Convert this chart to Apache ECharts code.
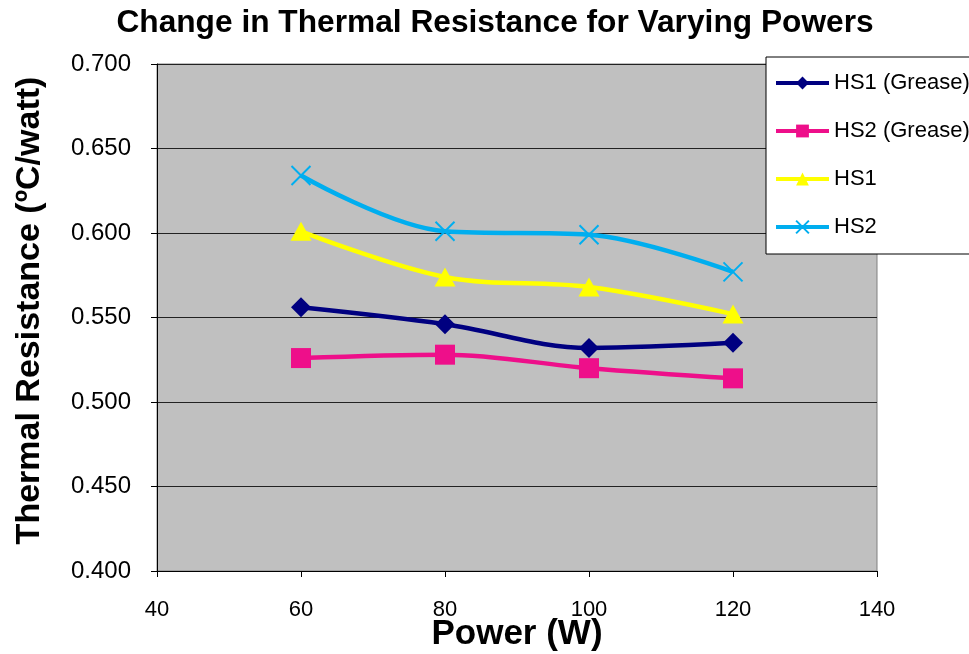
<!DOCTYPE html>
<html>
<head>
<meta charset="utf-8">
<script src="https://cdn.jsdelivr.net/npm/echarts@6/dist/echarts.min.js"></script>
<style>
  html, body { margin: 0; padding: 0; background: #fff; }
  #chart { width: 969px; height: 654px; }
</style>
</head>
<body>
<div id="chart"></div>
<script>
// Power levels (W) and measured thermal resistance (ºC/watt) per heat sink
const powers = [60, 80, 100, 120];
const hs1Grease = [0.556, 0.546, 0.532, 0.535];
const hs2Grease = [0.526, 0.528, 0.520, 0.514];
const hs1 = [0.601, 0.574, 0.568, 0.552];
const hs2 = [0.634, 0.601, 0.599, 0.577];

const seriesNames = ['HS1 (Grease)', 'HS2 (Grease)', 'HS1', 'HS2'];
const seriesColors = ['#000080', '#EE0F8A', '#FFFF00', '#00AEEF'];

const FONT = 'Arial, "Liberation Sans", Helvetica, sans-serif';
const CROSS = 'path://M0,0L10,10M10,0L0,10';

function pairs(vals) {
  return powers.map((p, i) => [p, vals[i]]);
}

function lineSeries(name, vals, color, symbol, size, extra) {
  return Object.assign({
    name: name,
    type: 'line',
    data: pairs(vals),
    smooth: 0.35,
    symbol: symbol,
    symbolSize: size,
    showAllSymbol: true,
    lineStyle: { color: color, width: 4.5 },
    itemStyle: { color: color },
    z: 3
  }, extra || {});
}

const chart = echarts.init(document.getElementById('chart'), null, { renderer: 'canvas' });

chart.setOption({
  animation: false,
  backgroundColor: '#ffffff',
  title: {
    text: 'Change in Thermal Resistance for Varying Powers',
    left: 490,
    textAlign: 'center',
    top: 2,
    textStyle: { fontFamily: FONT, fontWeight: 'bold', fontSize: 31.7, color: '#000' }
  },
  legend: {
    orient: 'vertical',
    left: 766,
    top: 57,
    width: 230,
    padding: [15, 40, 16, 8],
    itemGap: 26,
    itemWidth: 53,
    itemHeight: 16,
    backgroundColor: '#ffffff',
    borderColor: '#000000',
    borderWidth: 1,
    borderRadius: 0,
    data: seriesNames,
    lineStyle: { width: 4 },
    textStyle: { fontFamily: FONT, fontSize: 22, color: '#000', padding: [0, 0, 0, 0] }
  },
  grid: {
    left: 157,
    right: 92,
    top: 64,
    bottom: 83,
    outerBoundsMode: 'none',
    containLabel: false,
    show: true,
    backgroundColor: '#C0C0C0',
    borderColor: '#808080',
    borderWidth: 1
  },
  xAxis: {
    type: 'value',
    min: 40,
    max: 140,
    interval: 20,
    name: 'Power (W)',
    nameLocation: 'middle',
    nameGap: 46,
    nameMoveOverlap: false,
    nameTextStyle: { fontFamily: FONT, fontWeight: 'bold', fontSize: 35, color: '#000' },
    axisLine: { show: true, onZero: false, lineStyle: { color: '#000', width: 1 } },
    axisTick: { show: true, length: 6, lineStyle: { color: '#000' } },
    axisLabel: { fontFamily: FONT, fontSize: 22, color: '#000', margin: 28 },
    splitLine: { show: false }
  },
  yAxis: {
    type: 'value',
    min: 0.4,
    max: 0.7,
    interval: 0.05,
    name: 'Thermal Resistance (ºC/watt)',
    nameLocation: 'middle',
    nameGap: 110,
    nameMoveOverlap: false,
    nameTextStyle: {
      fontFamily: FONT, fontWeight: 'bold', fontSize: 34, color: '#000',
      padding: [0, 0, 0, 14]
    },
    axisLine: { show: true, onZero: false, lineStyle: { color: '#000', width: 1 } },
    axisTick: { show: true, length: 6, lineStyle: { color: '#000' } },
    axisLabel: {
      fontFamily: FONT, fontSize: 24, color: '#000', margin: 26,
      formatter: v => v.toFixed(3)
    },
    splitLine: { show: true, lineStyle: { color: '#222', width: 1 } }
  },
  series: [
    lineSeries(seriesNames[0], hs1Grease, seriesColors[0], 'diamond', [20, 20]),
    lineSeries(seriesNames[1], hs2Grease, seriesColors[1], 'rect', 20),
    lineSeries(seriesNames[2], hs1, seriesColors[2], 'triangle', [21, 19]),
    lineSeries(seriesNames[3], hs2, seriesColors[3], CROSS, 19, {
      itemStyle: { color: seriesColors[3], borderColor: seriesColors[3], borderWidth: 2 }
    })
  ]
});
</script>
</body>
</html>
